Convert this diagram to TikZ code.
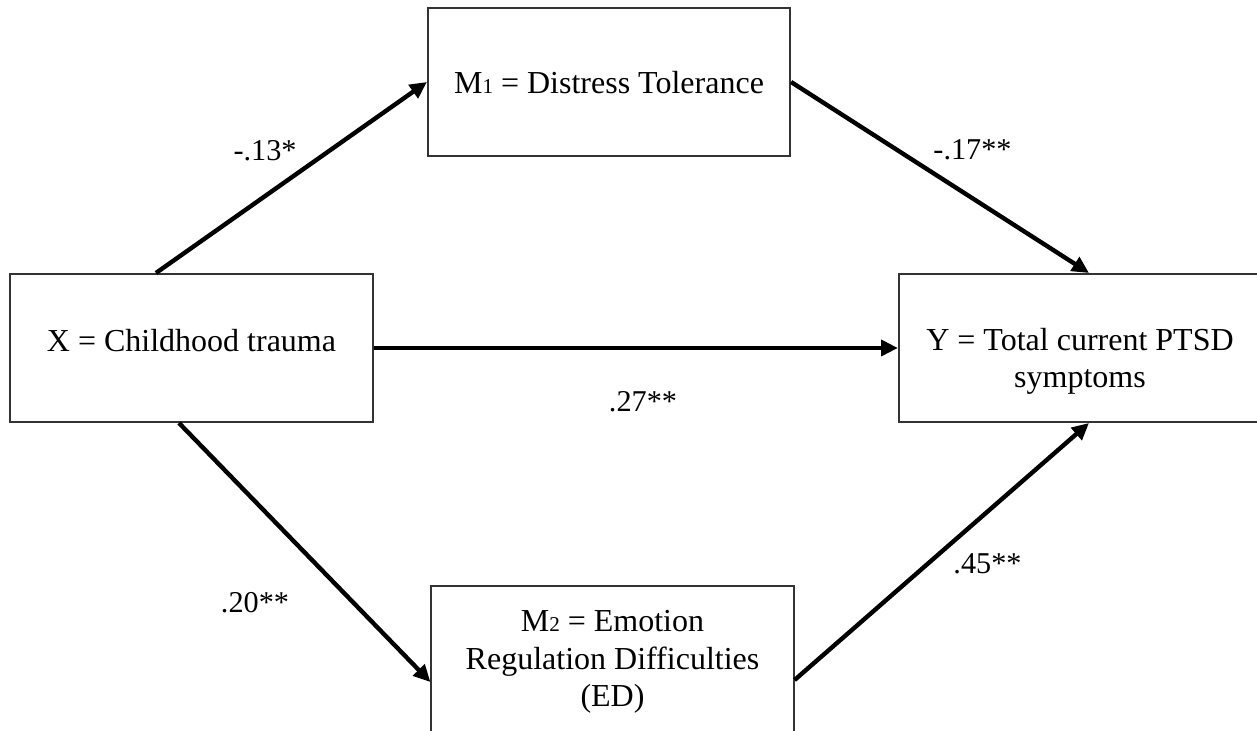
\documentclass[tikz,border=0pt]{standalone}
\usepackage{fontspec}
\setmainfont{Liberation Serif}
\usetikzlibrary{arrows.meta}

\begin{document}
\begin{tikzpicture}[x=0.01cm, y=-0.01cm,
		box/.style={draw=black!80, line width=0.55pt, minimum width=3.62cm, minimum height=1.48cm, inner sep=0pt},
		boxtext/.style={align=center, inner sep=0pt, font=\fontsize{9.1pt}{10.6pt}\selectfont},
		coef/.style={inner sep=0pt, font=\fontsize{8.6pt}{10pt}\selectfont},
		link/.style={line width=1.25pt, -{Triangle[length=4.8pt, width=4.5pt]}}]
		%%%%% START %%%%%
		\useasboundingbox (0, 0) rectangle (1257, 731);
		\clip (0, 0) rectangle (1257, 731);
		
		\node[box] (xbox) at (191.5, 348) {};
		\node[boxtext] (xtext) at (191.5, 341) {X = Childhood trauma};
		
		\node[box] (mone) at (609, 82) {};
		\node[boxtext] (monetext) at (609, 82.5) {M{\fontsize{6pt}{6pt}\selectfont 1} = Distress Tolerance};
		
		\node[box] (ybox) at (1080, 348) {};
		\node[boxtext] (ytext) at (1080, 361) {Y = Total current PTSD\\symptoms};
		
		\node[box] (mtwo) at (612.5, 660) {};
		\node[boxtext] (mtwotext) at (612.5, 662) {M{\fontsize{6pt}{6pt}\selectfont 2} = Emotion\\Regulation Difficulties\\(ED)};
		
		\draw[link] ([xshift=-0.355cm]xbox.north) -- (mone.west);
		\draw[link] (mone.east) -- ([xshift=0.09cm]ybox.north);
		\draw[link] (xbox.east) -- (ybox.west);
		\draw[link] ([xshift=-0.125cm]xbox.south) -- ([yshift=-0.22cm]mtwo.west);
		\draw[link] ([yshift=-0.2cm]mtwo.east) -- ([xshift=0.09cm]ybox.south);
		
		\node[coef] (cxmone) at (265, 150.5) {-.13*};
		\node[coef] (cmoney) at (972.5, 150) {-.17**};
		\node[coef] (cxy) at (643, 401.5) {.27**};
		\node[coef] (cxmtwo) at (255, 603) {.20**};
		\node[coef] (cmtwoy) at (987.5, 564) {.45**};
		%%%%% END %%%%%
	\end{tikzpicture}
\end{document}
